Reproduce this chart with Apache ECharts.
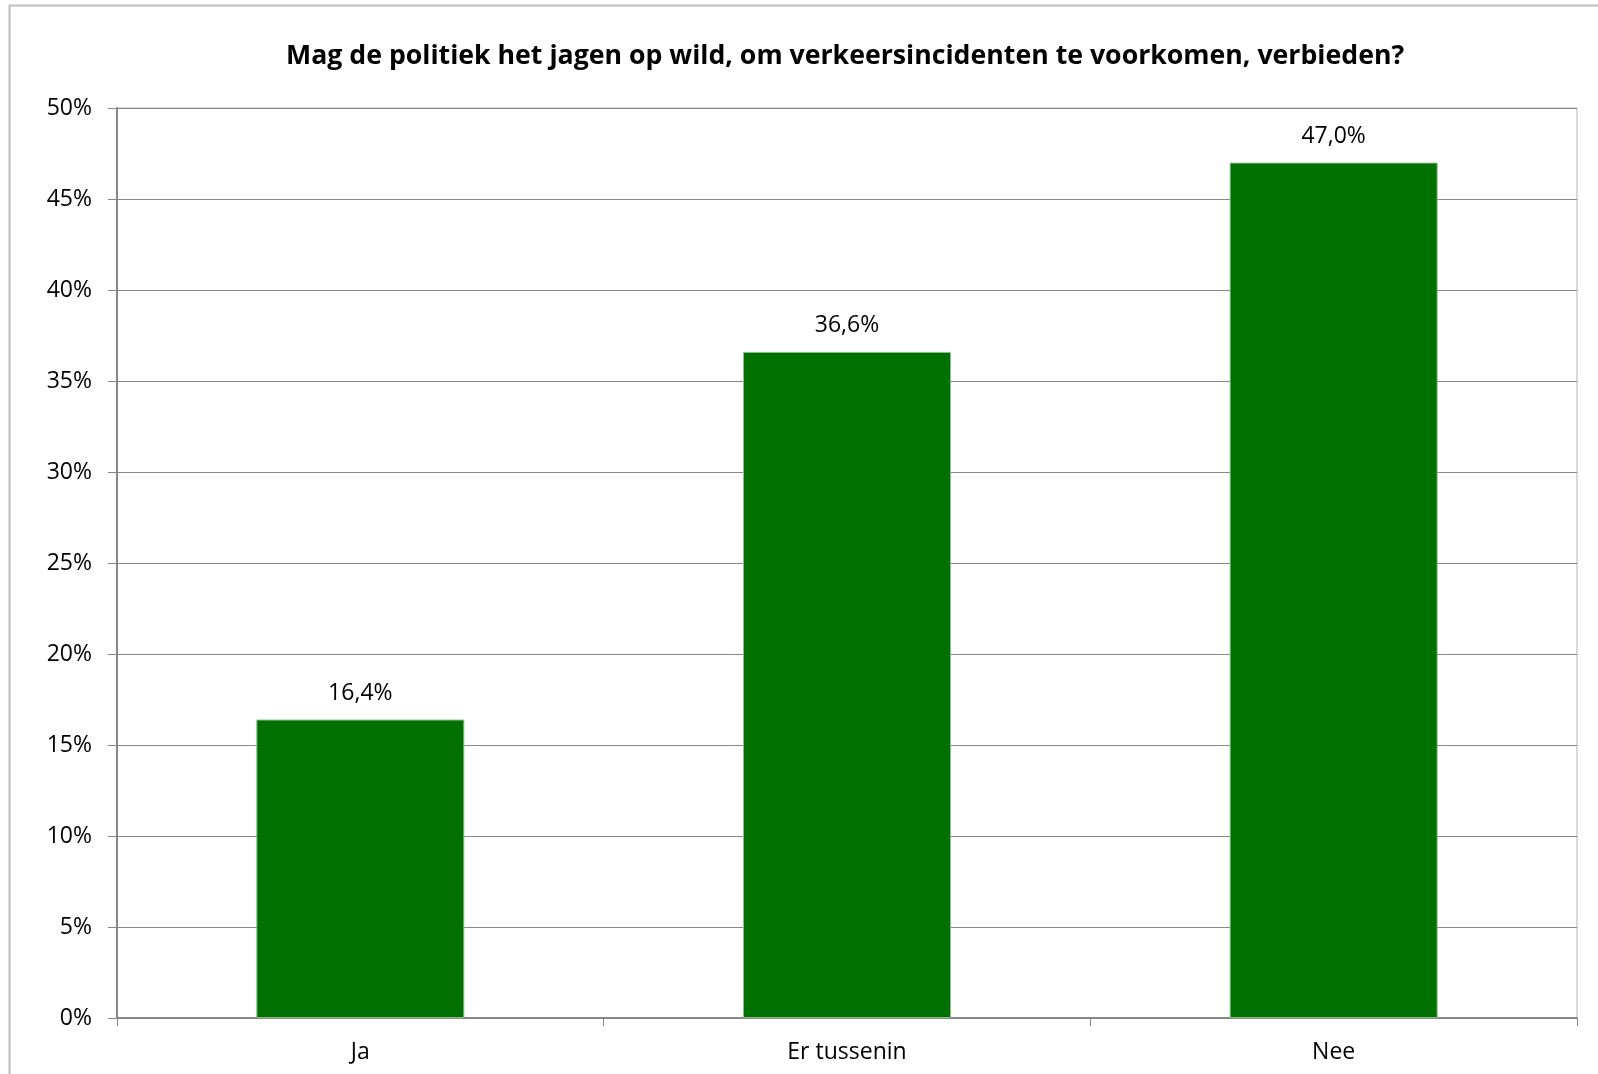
<!DOCTYPE html>
<html>
<head>
<meta charset="utf-8">
<script src="https://cdn.jsdelivr.net/npm/echarts@6/dist/echarts.min.js"></script>
<style>
  html, body { margin: 0; padding: 0; background: #fff; }
  #chart { width: 1598px; height: 1074px; }
</style>
</head>
<body>
<div id="chart"></div>
<script>
var categories = ['Ja', 'Er tussenin', 'Nee'];
var values = [16.4, 36.6, 47.0];
var yTicks = [0, 5, 10, 15, 20, 25, 30, 35, 40, 45, 50];

var chart = echarts.init(document.getElementById('chart'));
var font = '"Open Sans", sans-serif';

var option = {
    backgroundColor: '#fff',
    animation: false,
    title: {
        text: 'Mag de politiek het jagen op wild, om verkeersincidenten te voorkomen, verbieden?',
        left: 281,
        top: 38,
        textStyle: { fontFamily: font, fontWeight: 'bold', fontSize: 26.7, color: '#000' }
    },
    graphic: [{
        type: 'rect',
        shape: { x: 9.5, y: 5.5, width: 1700, height: 1200 },
        style: { fill: 'none', stroke: '#bdbdbd', lineWidth: 2 },
        silent: true
    }],
    grid: {
        left: 117, right: 21, top: 108, bottom: 56,
        show: true, borderColor: '#b5b5b5', borderWidth: 1
    },
    xAxis: {
        type: 'category',
        data: categories,
        axisLine: { lineStyle: { color: '#878787', width: 2 } },
        axisTick: { show: true, length: 8, lineStyle: { color: '#878787' } },
        axisLabel: { margin: 23, fontFamily: font, fontSize: 23, color: '#000' }
    },
    yAxis: {
        type: 'value',
        min: yTicks[0],
        max: yTicks[yTicks.length - 1],
        interval: yTicks[1] - yTicks[0],
        axisLine: { show: true, lineStyle: { color: '#878787', width: 2 } },
        axisTick: { show: true, length: 9, lineStyle: { color: '#878787' } },
        axisLabel: { margin: 25, fontFamily: font, fontSize: 23, color: '#000', formatter: '{value}%' },
        splitLine: { lineStyle: { color: '#878787', width: 1 } }
    },
    series: [{
        type: 'bar',
        data: values,
        barWidth: 208,
        itemStyle: { color: '#007000', borderColor: '#8cbf8c', borderWidth: 1 },
        label: {
            show: true,
            position: 'top',
            distance: 15,
            fontFamily: font,
            fontSize: 23,
            color: '#000',
            formatter: function (p) { return p.value.toFixed(1).replace('.', ',') + '%'; }
        }
    }]
};

chart.setOption(option);
</script>
</body>
</html>
